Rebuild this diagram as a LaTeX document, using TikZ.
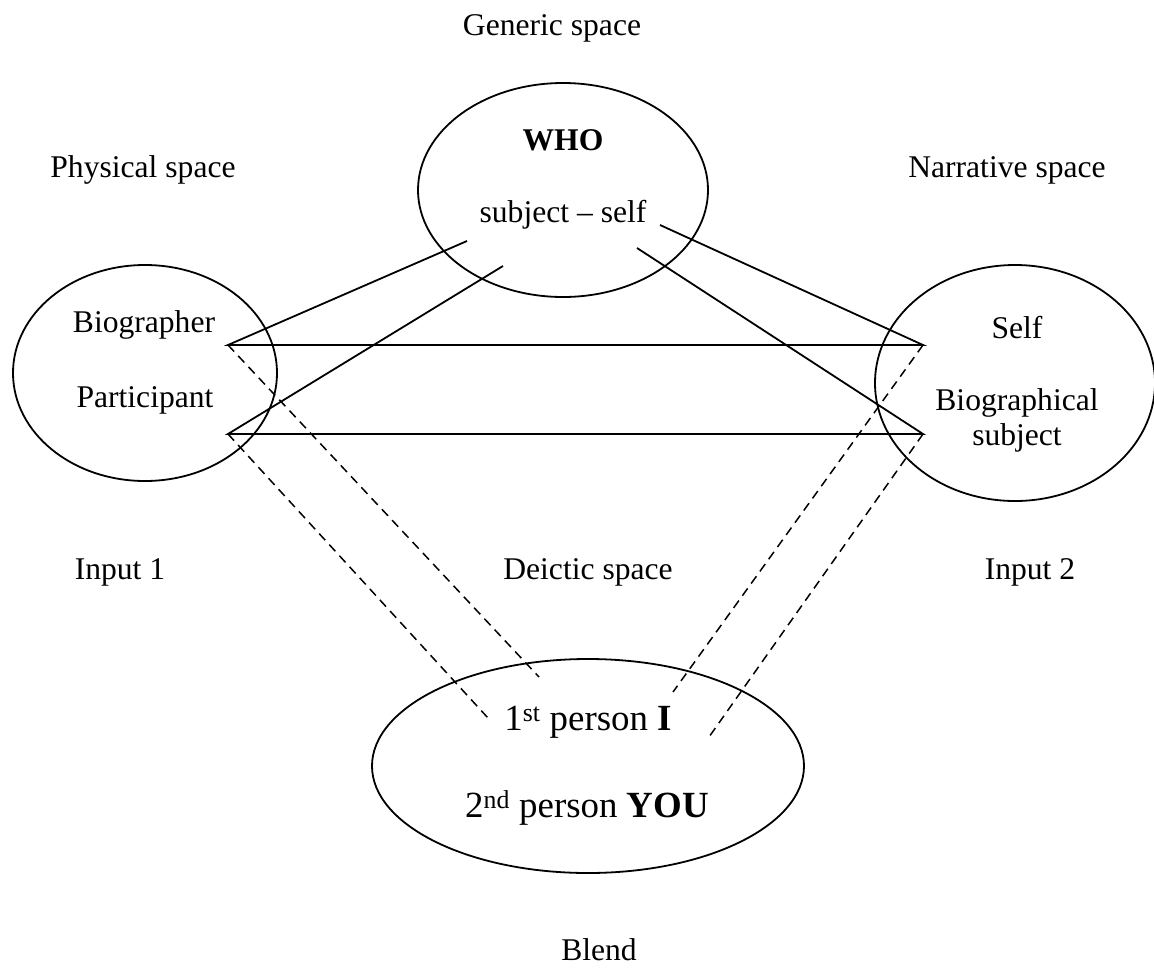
\documentclass[tikz,border=0pt]{standalone}
\usepackage{fontspec}
\setmainfont{Liberation Serif}
\begin{document}
\begin{tikzpicture}[x=1pt,y=-1pt,
  every node/.style={font=\fontsize{31.6}{36}\selectfont, inner sep=0pt, anchor=center},
  bigtext/.style={font=\fontsize{36.9}{42}\selectfont},
  space/.style={draw, line width=1.8pt},
  link/.style={line width=1.8pt},
  dlink/.style={line width=1.5pt, dash pattern=on 9pt off 6pt}]
  \useasboundingbox (0,0) rectangle (1154,972);

  % mental spaces
  \draw[space] (563,190) ellipse [x radius=145, y radius=107];
  \draw[space] (145,373) ellipse [x radius=132, y radius=108];
  \draw[space] (1015,383) ellipse [x radius=140, y radius=118];
  \draw[space] (588,766) ellipse [x radius=216, y radius=107];

  % space labels
  \node (generic) at (552,28) {Generic space};
  \node (physical) at (143,170) {Physical space};
  \node (narrative) at (1007,170) {Narrative space};
  \node (input1) at (120,572) {Input 1};
  \node (deictic) at (588,572) {Deictic space};
  \node (input2) at (1030,572) {Input 2};
  \node (blend) at (599,950) {Blend};

  % contents
  \node (who) at (563,140) {\textbf{WHO}};
  \node (subjself) at (563,215) {subject -- self};
  \node (biographer) at (144,325) {Biographer};
  \node (participant) at (145,400) {Participant};
  \node (self) at (1017,328) {Self};
  \node[align=center] (biosubj) at (1017,420) {Biographical\\[-1pt]subject};
  \node[bigtext] (first) at (588,722) {1\textsuperscript{st} person \textbf{I}};
  \node[bigtext] (second) at (587,808) {2\textsuperscript{nd} person \textbf{YOU}};

  % connector ends
  \coordinate (pBio) at (228,345);
  \coordinate (pPart) at (228,434);
  \coordinate (pSelf) at (923,345);
  \coordinate (pBsub) at (923,434);
  \coordinate (gA) at (467,241);
  \coordinate (gB) at (503,266);
  \coordinate (gC) at (660,225);
  \coordinate (gD) at (637,248);
  \coordinate (bA) at (539,677);
  \coordinate (bB) at (488,718);
  \coordinate (bC) at (673,692);
  \coordinate (bD) at (709,737);

  % cross-space mappings
  \draw[link] (gA) -- (pBio) -- (pSelf) -- (gC);
  \draw[link] (gB) -- (pPart) -- (pBsub) -- (gD);

  % projections into the blend
  \draw[dlink] (pBio) -- (bA);
  \draw[dlink] (pPart) -- (bB);
  \draw[dlink] (pSelf) -- (bC);
  \draw[dlink] (pBsub) -- (bD);
\end{tikzpicture}
\end{document}
